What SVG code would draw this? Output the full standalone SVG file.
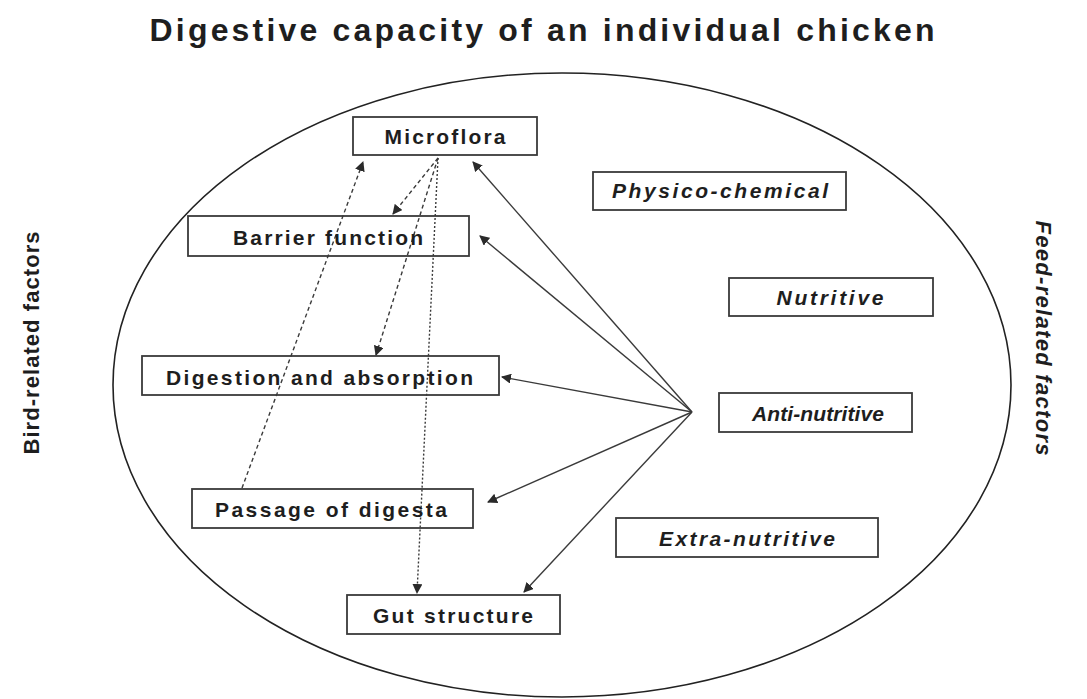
<svg xmlns="http://www.w3.org/2000/svg" width="1087" height="699" viewBox="0 0 1087 699">
<style>
.box{fill:#fff;stroke:#3a3a3a;stroke-width:1.8}
.lbl{font-family:"Liberation Sans",Arial,sans-serif;font-weight:bold;font-size:21px;fill:#1e1e1e;text-anchor:middle}
.it{font-style:italic}
.solid{stroke:#3a3a3a;stroke-width:1.4;fill:none}
.dash{stroke:#3a3a3a;stroke-width:1.4;fill:none;stroke-dasharray:4 3}
.dot{stroke:#3a3a3a;stroke-width:1.4;fill:none;stroke-dasharray:2 2}
</style>
<defs>
<marker id="ah" viewBox="0 0 10 10" refX="9" refY="5" markerWidth="10" markerHeight="10" markerUnits="userSpaceOnUse" orient="auto">
<path d="M0,0 L10,5 L0,10 z" fill="#2a2a2a"/>
</marker>
</defs>
<rect width="1087" height="699" fill="#fff"/>
<text x="542" y="41" class="lbl" style="font-size:32px" textLength="785" lengthAdjust="spacing">Digestive capacity of an individual chicken</text>
<ellipse cx="562" cy="385" rx="449" ry="312" fill="none" stroke="#222" stroke-width="1.6"/>
<text class="lbl" transform="translate(39,343) rotate(-90)" style="font-size:22px" textLength="223" lengthAdjust="spacing">Bird-related factors</text>
<text class="lbl it" transform="translate(1036,338) rotate(90)" style="font-size:22px" textLength="235" lengthAdjust="spacing">Feed-related factors</text>
<g id="connectors">
<line class="solid" x1="692" y1="412" x2="473" y2="162" marker-end="url(#ah)"/>
<line class="solid" x1="692" y1="412" x2="480" y2="236" marker-end="url(#ah)"/>
<line class="solid" x1="692" y1="412" x2="502" y2="377" marker-end="url(#ah)"/>
<line class="solid" x1="692" y1="412" x2="488" y2="502" marker-end="url(#ah)"/>
<line class="solid" x1="692" y1="412" x2="524" y2="592" marker-end="url(#ah)"/>
<line class="dash" x1="438" y1="158" x2="393" y2="214" marker-end="url(#ah)"/>
<line class="dash" x1="438" y1="158" x2="376" y2="355" marker-end="url(#ah)"/>
<line class="dot" x1="438" y1="158" x2="417" y2="593" marker-end="url(#ah)"/>
<line class="dash" x1="242" y1="488" x2="363" y2="162" marker-end="url(#ah)"/>
</g>
<g id="microflora"><rect class="box" x="353" y="117" width="184" height="38"/><text class="lbl" x="445" y="144" textLength="121" lengthAdjust="spacing">Microflora</text></g>
<g id="barrier"><rect class="box" x="188" y="216" width="281" height="40" fill-opacity="0"/><text class="lbl" x="328" y="245" textLength="190" lengthAdjust="spacing">Barrier function</text></g>
<g id="digestion"><rect class="box" x="142" y="356" width="357" height="39" fill-opacity="0"/><text class="lbl" x="319.5" y="385" textLength="307" lengthAdjust="spacing">Digestion and absorption</text></g>
<g id="passage"><rect class="box" x="192" y="489" width="281" height="39" fill-opacity="0"/><text class="lbl" x="331" y="517" textLength="232" lengthAdjust="spacing">Passage of digesta</text></g>
<g id="gut"><rect class="box" x="347" y="595" width="213" height="39"/><text class="lbl" x="453" y="623" textLength="160" lengthAdjust="spacing">Gut structure</text></g>
<g id="physico"><rect class="box" x="593" y="172" width="253" height="38"/><text class="lbl it" x="720" y="198" textLength="216" lengthAdjust="spacing">Physico-chemical</text></g>
<g id="nutritive"><rect class="box" x="729" y="278" width="204" height="38"/><text class="lbl it" x="830" y="305" textLength="107" lengthAdjust="spacing">Nutritive</text></g>
<g id="antinutritive"><rect class="box" x="719" y="393" width="193" height="39"/><text class="lbl it" x="818" y="421" textLength="132" lengthAdjust="spacing">Anti-nutritive</text></g>
<g id="extranutritive"><rect class="box" x="616" y="518" width="262" height="39"/><text class="lbl it" x="747" y="546" textLength="176" lengthAdjust="spacing">Extra-nutritive</text></g>
</svg>
